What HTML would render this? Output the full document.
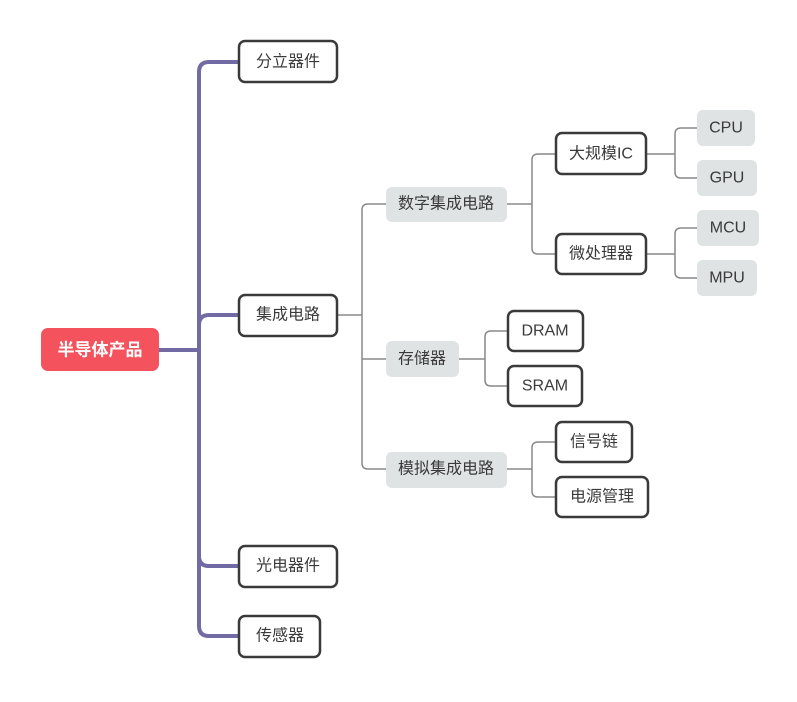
<!DOCTYPE html>
<html><head><meta charset="utf-8"><style>
body{margin:0;background:#fff;}
text{font-family:"Liberation Sans","Noto Sans CJK SC",sans-serif;font-size:16px;fill:#3a3a3a;dominant-baseline:central;text-anchor:middle;}
</style></head><body>
<svg width="797" height="697" xmlns="http://www.w3.org/2000/svg">
<g fill="none" stroke="#726aa3" stroke-width="4">
<path d="M159 350 H199"/>
<path d="M239 62 H209 Q199 62 199 72 V626 Q199 636 209 636 H239"/>
<path d="M239 315 H209 Q199 315 199 325"/>
<path d="M239 566 H209 Q199 566 199 556"/>
</g>
<g fill="none" stroke="#888" stroke-width="1.5">
<path d="M337 315 H362"/>
<path d="M386 204 H368 Q362 204 362 210 V463 Q362 469 368 469 H386"/>
<path d="M362 359 H386"/>
<path d="M507 204 H532"/>
<path d="M556 154 H538 Q532 154 532 160 V248 Q532 254 538 254 H556"/>
<path d="M646 154 H675"/>
<path d="M697 128 H681 Q675 128 675 134 V172 Q675 178 681 178 H697"/>
<path d="M646 254 H675"/>
<path d="M697 228 H681 Q675 228 675 234 V272 Q675 278 681 278 H697"/>
<path d="M459 359 H485"/>
<path d="M508 331 H491 Q485 331 485 337 V380 Q485 386 491 386 H508"/>
<path d="M507 469 H532"/>
<path d="M556 442 H538 Q532 442 532 448 V491 Q532 497 538 497 H556"/>
</g>
<rect x="41" y="328" width="118" height="43" rx="7" fill="#f4525d"/>
<text x="100" y="350" style="fill:#fff;font-weight:bold;font-size:17px">半导体产品</text>
<g fill="#fff" stroke="#3a3a3a" stroke-width="2.5">
<rect x="239" y="41" width="98" height="41" rx="6"/>
<rect x="239" y="295" width="98" height="41" rx="6"/>
<rect x="239" y="546" width="98" height="41" rx="6"/>
<rect x="239" y="616" width="81" height="41" rx="6"/>
<rect x="556" y="133" width="90" height="41" rx="6"/>
<rect x="556" y="234" width="90" height="40" rx="6"/>
<rect x="508" y="311" width="75" height="40" rx="6"/>
<rect x="508" y="366" width="74" height="40" rx="6"/>
<rect x="556" y="422" width="76" height="40" rx="6"/>
<rect x="556" y="477" width="92" height="40" rx="6"/>
</g>
<g fill="#dfe3e3">
<rect x="386" y="187" width="121" height="35" rx="6"/>
<rect x="386" y="341" width="73" height="36" rx="6"/>
<rect x="386" y="452" width="121" height="36" rx="6"/>
<rect x="697" y="110" width="58" height="36" rx="6"/>
<rect x="697" y="160" width="60" height="36" rx="6"/>
<rect x="697" y="210" width="62" height="36" rx="6"/>
<rect x="697" y="260" width="60" height="36" rx="6"/>
</g>
<text x="288" y="62">分立器件</text>
<text x="288" y="315">集成电路</text>
<text x="288" y="566">光电器件</text>
<text x="280" y="636">传感器</text>
<text x="446" y="204">数字集成电路</text>
<text x="422" y="359">存储器</text>
<text x="446" y="469">模拟集成电路</text>
<text x="601" y="154">大规模IC</text>
<text x="601" y="254">微处理器</text>
<text x="545" y="331">DRAM</text>
<text x="545" y="386">SRAM</text>
<text x="594" y="442">信号链</text>
<text x="602" y="497">电源管理</text>
<text x="726" y="128">CPU</text>
<text x="727" y="178">GPU</text>
<text x="728" y="228">MCU</text>
<text x="727" y="278">MPU</text>
</svg>
</body></html>
